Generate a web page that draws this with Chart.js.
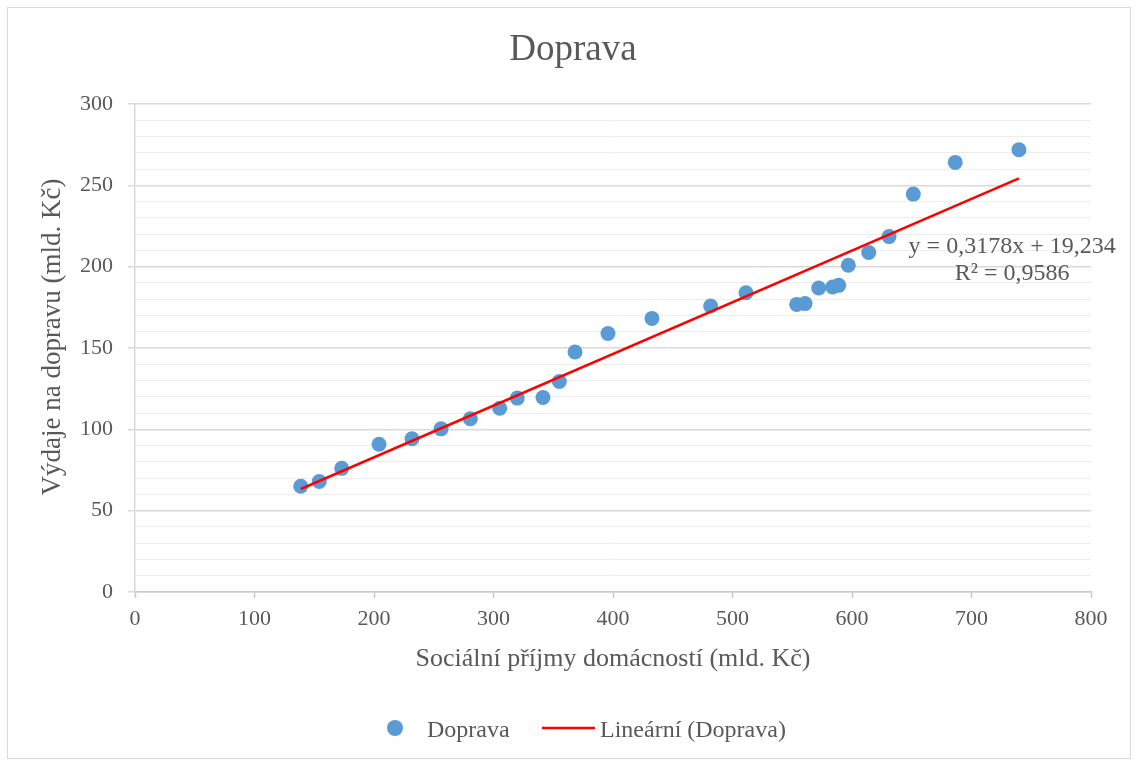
<!DOCTYPE html>
<html>
<head>
<meta charset="utf-8">
<script src="https://cdn.jsdelivr.net/npm/chart.js@4.4.1/dist/chart.umd.min.js"></script>
<style>
  html, body { margin: 0; padding: 0; background: #ffffff; }
  #wrap { width: 1137px; height: 760px; position: relative; }
</style>
</head>
<body>
<div id="wrap"><canvas id="c" width="1137" height="760"></canvas></div>
<script>
// ---- data ----
const chartTitle = "Doprava";
const xAxisTitle = "Sociální příjmy domácností (mld. Kč)";
const yAxisTitle = "Výdaje na dopravu (mld. Kč)";
const seriesName = "Doprava";
const trendName = "Lineární (Doprava)";

const incomeX = [138.7, 154.2, 173.0, 204.2, 231.8, 256.1, 280.6, 305.2, 319.9, 341.4,
                 355.1, 368.2, 395.8, 432.6, 481.7, 511.3, 553.7, 560.7, 572.1, 583.8,
                 588.9, 596.9, 614.0, 631.0, 651.3, 686.4, 739.7];
const transportY = [65.0, 67.9, 76.0, 90.8, 94.2, 100.3, 106.5, 113.0, 119.2, 119.6,
                    129.4, 147.5, 158.9, 168.2, 175.8, 184.0, 176.8, 177.3, 186.9, 187.5,
                    188.5, 200.9, 208.7, 218.5, 244.6, 264.1, 271.9];

const trendSlope = 0.3178;
const trendIntercept = 19.234;
const equationLines = ["y = 0,3178x + 19,234", "R² = 0,9586"];
const equationAnchor = { x: 734, y: 212.5 };

const xTicks = [0, 100, 200, 300, 400, 500, 600, 700, 800];
const yMajorTicks = [0, 50, 100, 150, 200, 250, 300];

// ---- build datasets ----
const scatterPoints = incomeX.map((x, i) => ({ x: x, y: transportY[i] }));
const xMin = Math.min(...incomeX), xMax = Math.max(...incomeX);
const trendPoints = [xMin, xMax].map(x => ({ x: x, y: trendSlope * x + trendIntercept }));

const FONT = "'Liberation Serif', 'Times New Roman', serif";
const TXT = '#595959';

const framePlugin = {
  id: 'frame',
  beforeDraw(chart) {
    const ctx = chart.ctx;
    ctx.save();
    ctx.fillStyle = '#ffffff';
    ctx.fillRect(0, 0, chart.width, chart.height);
    ctx.strokeStyle = '#d9d9d9';
    ctx.lineWidth = 1;
    ctx.strokeRect(7.5, 7.5, chart.width - 14, chart.height - 9);
    ctx.restore();
  }
};

const extrasPlugin = {
  id: 'extras',
  afterDraw(chart) {
    const ctx = chart.ctx;
    const xs = chart.scales.x, ys = chart.scales.y;
    ctx.save();
    ctx.textBaseline = 'middle';
    ctx.fillStyle = TXT;

    // chart title
    ctx.font = "37px " + FONT;
    ctx.textAlign = 'center';
    ctx.fillText(chartTitle, 573, 50.5);

    // y axis title (rotated)
    ctx.save();
    ctx.font = "27px " + FONT;
    ctx.translate(53, 337);
    ctx.rotate(-Math.PI / 2);
    ctx.fillText(yAxisTitle, 0, 0);
    ctx.restore();

    // regression equation
    ctx.font = "24px " + FONT;
    const ex = xs.getPixelForValue(equationAnchor.x);
    const ey = ys.getPixelForValue(equationAnchor.y);
    ctx.fillText(equationLines[0], ex, ey);
    ctx.fillText(equationLines[1], ex, ey + 27);

    // legend
    const ly = 728;
    ctx.fillStyle = '#5b9bd5';
    ctx.beginPath();
    ctx.arc(395, ly, 8, 0, Math.PI * 2);
    ctx.fill();
    ctx.fillStyle = TXT;
    ctx.textAlign = 'left';
    ctx.fillText(seriesName, 427, ly + 3);
    ctx.strokeStyle = '#ff0000';
    ctx.lineWidth = 2.5;
    ctx.beginPath();
    ctx.moveTo(542, ly);
    ctx.lineTo(595, ly);
    ctx.stroke();
    ctx.fillText(trendName, 600, ly + 3);
    ctx.restore();
  }
};

new Chart(document.getElementById('c'), {
  type: 'scatter',
  data: {
    datasets: [
      {
        type: 'line',
        label: trendName,
        data: trendPoints,
        borderColor: '#ff0000',
        borderWidth: 2.5,
        pointRadius: 0,
        fill: false,
        order: 0
      },
      {
        type: 'scatter',
        label: seriesName,
        data: scatterPoints,
        backgroundColor: '#5b9bd5',
        borderColor: '#5b9bd5',
        borderWidth: 0,
        pointRadius: 7.5,
        pointHoverRadius: 7.5,
        order: 1
      }
    ]
  },
  options: {
    responsive: false,
    animation: false,
    layout: { padding: { left: 0, right: 46, top: 104, bottom: 80 } },
    plugins: {
      legend: { display: false },
      tooltip: { enabled: false },
      title: { display: false }
    },
    scales: {
      x: {
        type: 'linear',
        min: 0, max: 800,
        afterBuildTicks(scale) { scale.ticks = xTicks.map(v => ({ value: v })); },
        afterFit(scale) { scale.height = 88; },
        ticks: {
          color: TXT,
          font: { family: FONT, size: 22 },
          padding: 8,
          autoSkip: false,
          maxRotation: 0
        },
        grid: {
          drawOnChartArea: false,
          drawTicks: true,
          tickLength: 6,
          tickColor: '#c8c8c8',
          tickWidth: 1.5
        },
        border: { color: '#c8c8c8', width: 1.5 },
        title: {
          display: true,
          text: xAxisTitle,
          color: TXT,
          font: { family: FONT, size: 26 },
          padding: { top: 0, bottom: 5.4 }
        }
      },
      y: {
        type: 'linear',
        min: 0, max: 300,
        afterFit(scale) { scale.width = 135; },
        ticks: {
          stepSize: 10,
          color: TXT,
          font: { family: FONT, size: 22 },
          padding: 15,
          autoSkip: false,
          callback: v => (yMajorTicks.includes(v) ? String(v) : '')
        },
        grid: {
          drawTicks: true,
          tickLength: 7,
          color: c => (yMajorTicks.includes(c.tick.value) ? '#d9d9d9' : '#ededed'),
          lineWidth: c => (yMajorTicks.includes(c.tick.value) ? 1.5 : 1),
          tickColor: c => (yMajorTicks.includes(c.tick.value) ? '#d9d9d9' : 'rgba(0,0,0,0)')
        },
        border: { color: '#d9d9d9', width: 1.5 },
        title: { display: false }
      }
    }
  },
  plugins: [framePlugin, extrasPlugin]
});
</script>
</body>
</html>
